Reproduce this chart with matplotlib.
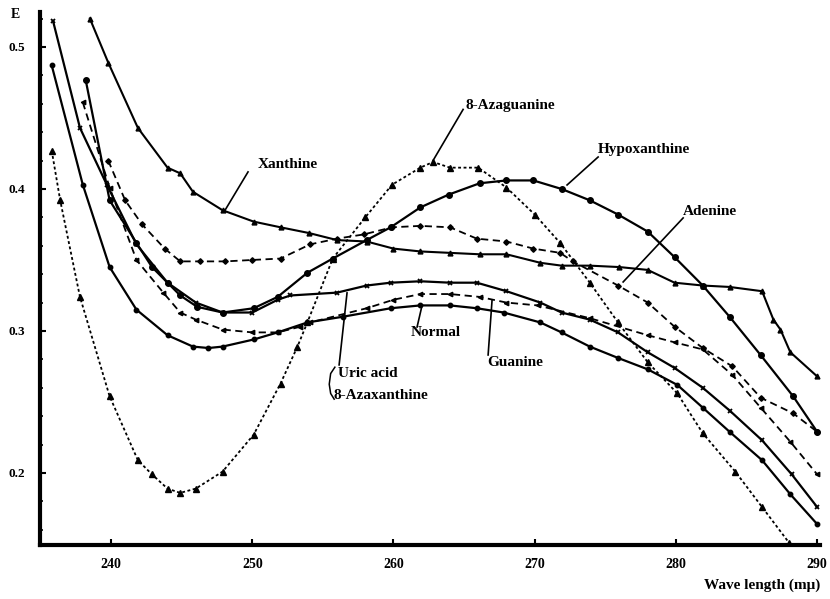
import matplotlib
matplotlib.use("Agg")
import matplotlib.pyplot as plt
from matplotlib.ticker import MultipleLocator

plt.rcParams['font.family'] = ['Liberation Serif', 'DejaVu Serif']
plt.rcParams['font.weight'] = 'bold'

# ---------------- data (wavelength in m\u03bc, extinction E) ----------------
xan_wl = [238.5, 239.8, 241.9, 244.0, 244.9, 245.8, 247.9, 250.1, 252.0, 254.0, 256.0, 258.1,
          260.0, 261.9, 264.0, 266.1, 268.0, 270.4, 271.9, 273.9, 276.0, 278.0, 279.9, 281.9,
          283.8, 286.1, 286.9, 287.4, 288.1, 290.0]
xan_e = [0.520, 0.489, 0.443, 0.415, 0.411, 0.398, 0.385, 0.377, 0.373, 0.369, 0.364, 0.363,
         0.358, 0.356, 0.355, 0.354, 0.354, 0.348, 0.346, 0.346, 0.345, 0.343, 0.334, 0.332,
         0.331, 0.328, 0.308, 0.301, 0.285, 0.268]

hyp_wl = [238.2, 239.9, 241.8, 242.9, 244.0, 244.9, 246.1, 247.9, 250.1, 251.8, 253.9, 255.7,
          258.1, 259.8, 261.9, 263.9, 266.1, 268.0, 269.9, 271.9, 273.9, 275.9, 278.0, 279.9,
          281.9, 283.8, 286.0, 288.3, 290.0]
hyp_e = [0.477, 0.392, 0.362, 0.345, 0.334, 0.325, 0.317, 0.313, 0.316, 0.324, 0.341, 0.351,
         0.364, 0.373, 0.387, 0.396, 0.404, 0.406, 0.406, 0.400, 0.392, 0.382, 0.370, 0.352,
         0.332, 0.310, 0.283, 0.254, 0.229]

aza_wl = [235.8, 236.4, 237.8, 239.9, 241.9, 242.9, 244.0, 244.9, 246.0, 247.9, 250.1, 252.0,
          253.2, 253.9, 255.7, 258.0, 259.9, 261.9, 262.8, 264.0, 266.0, 268.0, 270.0, 271.8,
          273.9, 275.9, 278.0, 280.1, 281.9, 284.2, 286.1, 288.0]
aza_e = [0.427, 0.392, 0.324, 0.254, 0.209, 0.199, 0.189, 0.186, 0.189, 0.201, 0.227, 0.263,
         0.289, 0.306, 0.351, 0.380, 0.403, 0.415, 0.419, 0.415, 0.415, 0.401, 0.382, 0.362,
         0.334, 0.306, 0.278, 0.256, 0.228, 0.201, 0.176, 0.151]

ade_wl = [239.8, 241.0, 242.2, 243.8, 244.9, 246.3, 248.1, 250.0, 252.0, 254.1, 256.0, 257.9,
          259.9, 261.9, 264.0, 265.9, 268.0, 269.9, 271.8, 272.7, 275.9, 278.0, 279.9, 281.9,
          284.0, 286.0, 288.3, 290.0]
ade_e = [0.420, 0.392, 0.375, 0.358, 0.349, 0.349, 0.349, 0.350, 0.351, 0.361, 0.365, 0.368,
         0.373, 0.374, 0.373, 0.365, 0.363, 0.358, 0.355, 0.349, 0.332, 0.320, 0.303, 0.288,
         0.275, 0.253, 0.242, 0.229]

uric_wl = [235.9, 237.8, 239.7, 241.8, 244.0, 246.0, 247.9, 250.0, 251.8, 252.7, 256.0, 258.1,
           259.8, 261.9, 264.0, 265.9, 268.0, 270.4, 271.9, 273.9, 275.9, 278.0, 279.9, 281.9,
           283.8, 286.1, 288.2, 290.0]
uric_e = [0.518, 0.443, 0.403, 0.361, 0.334, 0.320, 0.313, 0.313, 0.322, 0.325, 0.327, 0.332,
          0.334, 0.335, 0.334, 0.334, 0.328, 0.320, 0.313, 0.308, 0.299, 0.285, 0.274, 0.260,
          0.244, 0.223, 0.199, 0.176]

norm_wl = [235.8, 238.0, 239.9, 241.8, 244.0, 245.8, 246.9, 247.9, 250.1, 251.8, 253.9, 256.4,
           259.8, 261.9, 264.0, 265.9, 267.8, 270.4, 271.9, 273.9, 275.9, 278.0, 280.1, 281.9,
           283.8, 286.1, 288.1, 290.0]
norm_e = [0.487, 0.403, 0.345, 0.315, 0.297, 0.289, 0.288, 0.289, 0.294, 0.299, 0.306, 0.310,
          0.316, 0.318, 0.318, 0.316, 0.313, 0.306, 0.299, 0.289, 0.281, 0.273, 0.262, 0.246,
          0.229, 0.209, 0.185, 0.164]

gua_wl = [238.0, 239.9, 241.8, 243.7, 244.9, 246.0, 247.9, 250.0, 251.8, 253.4, 254.1, 258.1,
          260.0, 261.9, 264.0, 266.1, 268.0, 270.2, 273.9, 278.0, 279.9, 281.9, 284.0, 286.0,
          288.1, 290.0]
gua_e = [0.461, 0.401, 0.350, 0.327, 0.313, 0.308, 0.301, 0.299, 0.299, 0.303, 0.306, 0.316,
         0.322, 0.326, 0.326, 0.324, 0.320, 0.318, 0.309, 0.297, 0.292, 0.287, 0.269, 0.246,
         0.222, 0.199]

x_ticks = [240, 250, 260, 270, 280, 290]
y_ticks = [0.2, 0.3, 0.4, 0.5]
y_ticklabels = ["0.2", "0.3", "0.4", "0.5"]

# ---------------- figure ----------------
fig = plt.figure(figsize=(8.30, 5.99), dpi=100)
ax = fig.add_axes([40 / 830, 1 - 545 / 599, (820 - 40) / 830, (545 - 12) / 599])

k = dict(color='black', markerfacecolor='black', markeredgecolor='black')
ax.plot(xan_wl, xan_e, '-', lw=1.5, marker='^', ms=3.5, **k)
ax.plot(hyp_wl, hyp_e, '-', lw=1.6, marker='o', ms=4, **k)
ax.plot(aza_wl, aza_e, linestyle=(0, (1.6, 1.4)), lw=1.3, marker='^', ms=4, **k)
ax.plot(ade_wl, ade_e, linestyle=(0, (4, 2.5)), lw=1.3, marker='D', ms=2.8, **k)
ax.plot(uric_wl, uric_e, '-', lw=1.6, marker='x', ms=3.5, mew=1.3, **k)
ax.plot(norm_wl, norm_e, '-', lw=1.6, marker='o', ms=3.2, **k)
ax.plot(gua_wl, gua_e, linestyle=(0, (4, 2.5)), lw=1.3, marker='<', ms=3.2, **k)

ax.set_xlim(234.97, 290.2)
ax.set_ylim(0.1493, 0.5246)

for s in ['top', 'right']:
    ax.spines[s].set_visible(False)
for s in ['left', 'bottom']:
    ax.spines[s].set_linewidth(3)

ax.set_xticks(x_ticks)
ax.set_xticklabels([str(t) for t in x_ticks], fontsize=10, fontweight='bold')
ax.set_yticks(y_ticks)
ax.set_yticklabels(y_ticklabels, fontsize=9.5, fontweight='bold')
ax.yaxis.set_minor_locator(MultipleLocator(0.02))
ax.tick_params(axis='x', direction='in', length=4, width=1.5, pad=9)
ax.tick_params(axis='y', direction='in', length=4, width=1.5, pad=11)
ax.tick_params(axis='y', which='minor', direction='in', length=2, width=1.2)

# ---------------- labels with leader lines ----------------
labels = [
    ("Xanthine", (250.41, 0.417), (249.70, 0.412), (248.07, 0.385)),
    ("8-Azaguanine", (265.07, 0.459), (264.93, 0.456), (262.80, 0.420)),
    ("Hypoxanthine", (274.49, 0.4275), (274.49, 0.4225), (272.29, 0.4028)),
    ("Adenine", (280.51, 0.384), (280.51, 0.3796), (276.26, 0.3345)),
    ("Normal", (261.18, 0.2986), (261.67, 0.3028), (262.03, 0.3183)),
    ("Guanine", (266.63, 0.2775), (266.70, 0.2831), (266.98, 0.3218)),
    ("Uric acid", (256.08, 0.2704), (256.15, 0.2761), (256.71, 0.3268)),
    ("8-Azaxanthine", (255.72, 0.2549), None, None),
]
for txt, tpos, a, b in labels:
    ax.text(tpos[0], tpos[1], txt, fontsize=11, fontweight='bold', ha='left', va='center')
    if a is not None:
        ax.plot([a[0], b[0]], [a[1], b[1]], color='black', lw=1.2)
# brace joining Uric acid and 8-Azaxanthine
ax.plot([255.85, 255.55, 255.45, 255.55, 255.80], [0.2745, 0.2700, 0.2625, 0.2560, 0.2520],
        color='black', lw=1.1)

fig.text(15 / 830, 1 - 15 / 599, "E", fontsize=10, fontweight='bold', ha='center', va='center')
fig.text(820 / 830, 1 - 585 / 599, "Wave length (m\u03bc)", fontsize=11, fontweight='bold',
         ha='right', va='center')

fig.savefig("out.png", dpi=100)
